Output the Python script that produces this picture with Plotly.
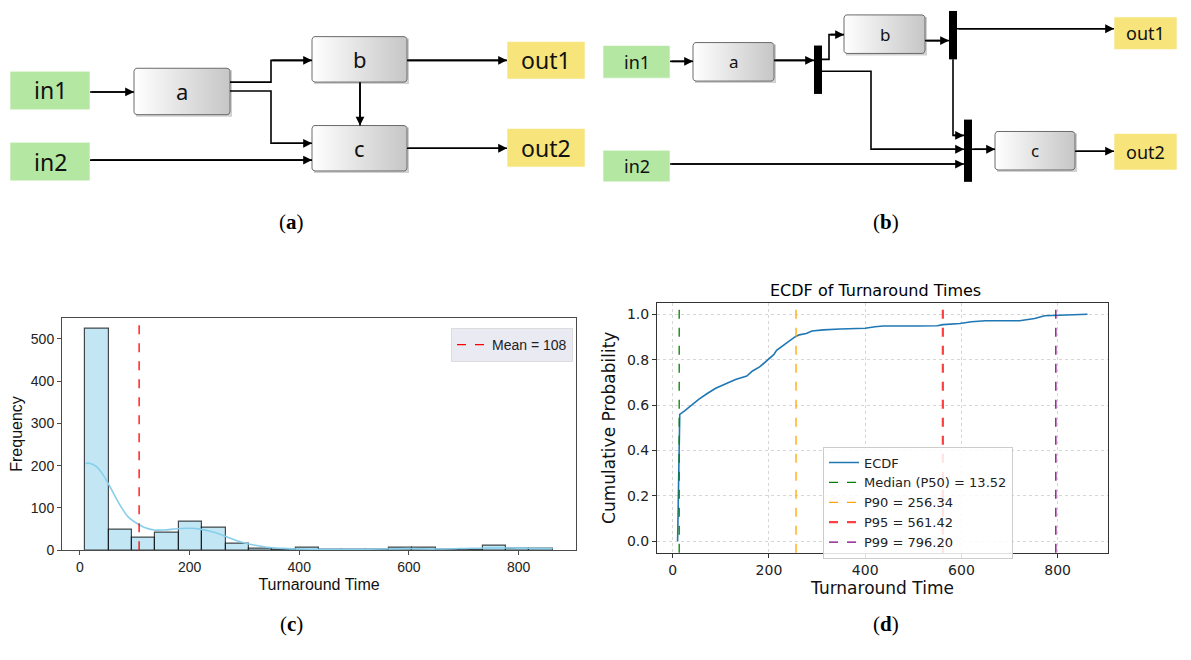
import math
import plotly.graph_objects as go

# ---------------- (c) histogram of turnaround times ----------------
bin_start = 10.0
bin_width = 42.6
hist_counts = [524, 48, 31, 41, 68, 53, 16, 4, 2, 7, 2, 1, 2, 7, 6, 1, 2, 11, 5, 5]
kde_x = [10, 17, 29, 40, 52, 64, 76, 88, 106, 118, 136, 154, 177, 201, 219, 243, 261,
         285, 308, 341, 371, 400, 451, 500, 555, 600, 652, 694, 748, 800, 862]
kde_y = [205, 206, 199, 183, 157, 128, 101, 79, 62, 54, 48, 48, 51, 52, 50, 43, 35,
         23, 15, 7, 4.5, 3, 2.3, 2.3, 3, 4, 3, 4, 5.5, 5, 4]
mean_val = 108

# ---------------- (d) ECDF ----------------
ecdf_x = [10.2, 13.5, 14.7, 24.7, 36.5, 54, 71.8, 89.4, 107, 130.6, 154, 165.9, 180.6,
          195.3, 210, 215.9, 236.5, 254, 263, 277.6, 289.4, 313, 348, 400, 420.6, 438,
          509, 550, 561.8, 597, 621, 650, 721, 752, 773, 800, 834, 862]
ecdf_y = [0.0, 0.45, 0.559, 0.574, 0.596, 0.625, 0.651, 0.674, 0.691, 0.713, 0.728,
          0.75, 0.768, 0.794, 0.822, 0.841, 0.875, 0.9, 0.909, 0.915, 0.926, 0.931,
          0.935, 0.938, 0.945, 0.948, 0.948, 0.949, 0.954, 0.959, 0.967, 0.971, 0.971,
          0.981, 0.993, 0.995, 1.0, 1.0]
pct_names = ["Median (P50)", "P90", "P95", "P99"]
pct_vals = [13.52, 256.34, 561.42, 796.20]
pct_colors = ["green", "orange", "rgba(255,0,0,0.75)", "purple"]
pct_widths = [1.3, 1.3, 2.2, 1.3]

# ---------------- diagrams (a) and (b), page pixel geometry ----------------
nodes_a = {
    "in1": ("in", 10, 72, 90, 111), "in2": ("in", 10, 144, 90, 183),
    "a": ("blk", 134, 69, 230, 116), "b": ("blk", 312, 37, 407, 83),
    "c": ("blk", 312, 127, 407, 173),
    "out1": ("out", 507, 42, 585, 80), "out2": ("out", 507, 130, 585, 169),
}
edges_a = [
    [(90, 93), (134, 93)],
    [(230, 83), (271, 83), (271, 61), (312, 61)],
    [(230, 92), (271, 92), (271, 145), (312, 145)],
    [(90, 162), (312, 162)],
    [(360, 83), (360, 127)],
    [(407, 61), (507, 61)],
    [(407, 150), (507, 150)],
]
nodes_b = {
    "in1": ("in", 603, 46, 670, 79), "in2": ("in", 603, 152, 670, 184),
    "a": ("blk", 693, 43, 774, 82), "b": ("blk", 844, 15, 925, 54),
    "c": ("blk", 995, 133, 1075, 172),
    "out1": ("out", 1114, 17, 1177, 50), "out2": ("out", 1114, 135, 1177, 172),
}
bars_b = [(814, 46, 822, 95), (949, 11, 957, 60), (964, 121, 972, 184)]
edges_b = [
    [(670, 62), (693, 62)],
    [(774, 61), (814, 61)],
    [(822, 60), (829, 60), (829, 35), (844, 35)],
    [(822, 72), (871, 72), (871, 151), (964, 151)],
    [(925, 41), (949, 41)],
    [(957, 29), (1114, 29)],
    [(953, 60), (953, 137), (964, 137)],
    [(670, 166), (964, 166)],
    [(972, 151), (995, 151)],
    [(1075, 153), (1114, 153)],
]
panel_tags = [("a", 291, 225), ("b", 886, 225), ("c", 291, 632), ("d", 886, 632)]

# page body has an 8px margin, so the figure starts at (8, 8)
OFF = 8
W, H = 1191 - OFF, 660 - OFF


def px(x):
    return (x - OFF) / W


def py(y):
    return 1 - (y - OFF) / H


fig = go.Figure()
shapes = []
annos = []
OV = dict(xaxis="x3", yaxis="y3")


def rounded(x0, y0, x1, y1, r=3):
    xs, ys = [], []
    for cx, cy, a0 in [(x1 - r, y0 + r, -90), (x1 - r, y1 - r, 0), (x0 + r, y1 - r, 90), (x0 + r, y0 + r, 180)]:
        for k in range(5):
            t = math.radians(a0 + k * 22.5)
            xs.append(cx + r * math.cos(t))
            ys.append(cy + r * math.sin(t))
    return xs + xs[:1], ys + ys[:1]


def draw_diagram(nodes, edges, fsize, bsize, bars=()):
    for name, (kind, x0, y0, x1, y1) in nodes.items():
        if kind == "blk":
            shapes.append(dict(type="rect", xref="x3", yref="y3", x0=x0 + 2, y0=y0 + 2, x1=x1 + 2, y1=y1 + 2,
                               fillcolor="rgba(0,0,0,0.18)", line_width=0, layer="below"))
            xs, ys = rounded(x0, y0, x1, y1)
            fig.add_trace(go.Scatter(x=xs, y=ys, mode="lines", fill="toself",
                                     fillgradient=dict(type="horizontal",
                                                       colorscale=[[0, "#ffffff"], [1, "#c6c6c6"]]),
                                     line=dict(color="#6a6a6a", width=1), showlegend=False,
                                     hoverinfo="skip", **OV))
        else:
            col = "#b4e7a1" if kind == "in" else "#f7e47b"
            shapes.append(dict(type="rect", xref="x3", yref="y3", x0=x0, y0=y0, x1=x1, y1=y1,
                               fillcolor=col, line=dict(color="rgba(255,255,255,0.6)", width=1), layer="below"))
        annos.append(dict(x=(x0 + x1) / 2, y=(y0 + y1) / 2, xref="x3", yref="y3", text=name,
                          showarrow=False,
                          font=dict(family="Noto Sans", size=bsize if kind == "blk" else fsize, color="#111")))
    for (x0, y0, x1, y1) in bars:
        shapes.append(dict(type="rect", xref="x3", yref="y3", x0=x0, y0=y0, x1=x1, y1=y1,
                           fillcolor="black", line_width=0))
    for pts in edges:
        fig.add_trace(go.Scatter(x=[p[0] for p in pts], y=[p[1] for p in pts], mode="lines",
                                 line=dict(color="black", width=1.6), showlegend=False,
                                 hoverinfo="skip", **OV))
        (tx, ty), (hx, hy) = pts[-2], pts[-1]
        annos.append(dict(x=hx, y=hy, ax=tx, ay=ty, xref="x3", yref="y3", axref="x3", ayref="y3",
                          text="", showarrow=True, arrowhead=2, arrowsize=1.1, arrowwidth=1.6,
                          arrowcolor="black", standoff=0))


draw_diagram(nodes_a, edges_a, 23, 22)
draw_diagram(nodes_b, edges_b, 18, 17, bars_b)

for tag, x, y in panel_tags:
    annos.append(dict(x=x, y=y, xref="x3", yref="y3", text=f"(<b>{tag}</b>)", showarrow=False,
                      font=dict(family="Liberation Serif", size=21, color="black")))

# ---------------- (c) ----------------
centers = [bin_start + (i + 0.5) * bin_width for i in range(len(hist_counts))]
fig.add_trace(go.Bar(x=centers, y=hist_counts, width=bin_width, xaxis="x", yaxis="y",
                     marker=dict(color="rgba(135,206,235,0.5)", line=dict(color="rgba(0,0,0,0.7)", width=1.2)),
                     showlegend=False, hoverinfo="skip"))
fig.add_trace(go.Scatter(x=kde_x, y=kde_y, mode="lines", line=dict(color="#87ceeb", width=1.6, shape="spline"),
                         xaxis="x", yaxis="y", showlegend=False, hoverinfo="skip"))
shapes.append(dict(type="line", xref="x", yref="y domain", x0=mean_val, x1=mean_val, y0=0, y1=1,
                   line=dict(color="red", width=1.3, dash="dash"), showlegend=True,
                   name=f"Mean = {mean_val}", legend="legend"))

# ---------------- (d) ----------------
fig.add_trace(go.Scatter(x=ecdf_x, y=ecdf_y, mode="lines", name="ECDF", line=dict(color="#1f77b4", width=1.6),
                         xaxis="x2", yaxis="y2", legend="legend2", legendrank=1, hoverinfo="skip"))
for i, (nm, v) in enumerate(zip(pct_names, pct_vals)):
    shapes.append(dict(type="line", xref="x2", yref="y2 domain", x0=v, x1=v, y0=0, y1=1,
                       line=dict(color=pct_colors[i], width=pct_widths[i], dash="dash"),
                       showlegend=True, name=f"{nm} = {v:.2f}", legend="legend2", legendrank=2 + i))
annos.append(dict(x=875, y=294, xref="x3", yref="y3", text="ECDF of Turnaround Times", showarrow=False,
                  font=dict(family="DejaVu Sans", size=16, color="black")))

ax_c = dict(showline=True, mirror=True, linecolor="#4a4a4a", linewidth=1, ticks="outside", ticklen=4,
            tickcolor="#4a4a4a", showgrid=False, zeroline=False,
            tickfont=dict(family="Liberation Sans", size=14, color="#222"))
ax_d = dict(showline=True, mirror=True, linecolor="#333", linewidth=1, ticks="outside", ticklen=4,
            tickcolor="#333", showgrid=True, gridcolor="#d6d6d6", griddash="dot", zeroline=False,
            tickfont=dict(family="DejaVu Sans", size=14, color="#222"))

fig.update_layout(
    width=W, height=H, margin=dict(l=0, r=0, t=0, b=0),
    paper_bgcolor="white", plot_bgcolor="rgba(0,0,0,0)", bargap=0,
    xaxis=dict(domain=[px(62), px(576)], anchor="y", range=[-32.6, 904.6], tickvals=[0, 200, 400, 600, 800],
               title=dict(text="Turnaround Time", standoff=4,
                          font=dict(family="Liberation Sans", size=16, color="#111")), **ax_c),
    yaxis=dict(domain=[py(557), py(321.5)], anchor="x", range=[0, 550.2], tickvals=[0, 100, 200, 300, 400, 500],
               title=dict(text="Frequency", standoff=6,
                          font=dict(family="Liberation Sans", size=16, color="#111")), **ax_c),
    xaxis2=dict(domain=[px(657), px(1108)], anchor="y2", range=[-32.6, 904.6], tickvals=[0, 200, 400, 600, 800],
                title=dict(text="Turnaround Time", standoff=4,
                           font=dict(family="DejaVu Sans", size=17, color="#111")), **ax_d),
    yaxis2=dict(domain=[py(559.5), py(306.5)], anchor="x2", range=[-0.05, 1.05],
                tickvals=[0, 0.2, 0.4, 0.6, 0.8, 1.0], tickformat=".1f",
                title=dict(text="Cumulative Probability", standoff=6,
                           font=dict(family="DejaVu Sans", size=17, color="#111")), **ax_d),
    xaxis3=dict(domain=[0, 1], anchor="y3", range=[OFF, 1191], visible=False, fixedrange=True),
    yaxis3=dict(domain=[0, 1], anchor="x3", range=[660, OFF], visible=False, fixedrange=True),
    legend=dict(x=px(573), xanchor="right", y=py(332), yanchor="top", bgcolor="#eaeaf2",
                bordercolor="#dcdcdc", borderwidth=1,
                font=dict(family="Liberation Sans", size=14, color="#222")),
    legend2=dict(x=px(823), xanchor="left", y=py(452), yanchor="top", bgcolor="rgba(255,255,255,0.85)",
                 bordercolor="#cccccc", borderwidth=1,
                 font=dict(family="DejaVu Sans", size=13, color="#222")),
    shapes=shapes, annotations=annos,
)

fig.write_html("out.html")
